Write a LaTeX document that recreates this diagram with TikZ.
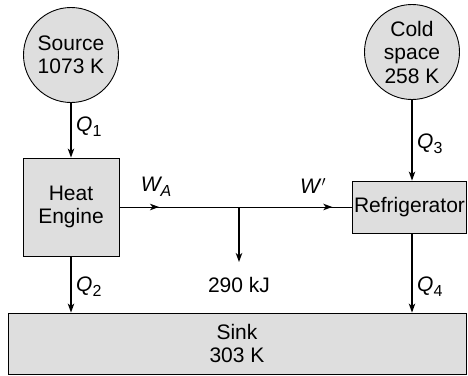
\documentclass[tikz,border=0pt]{standalone}
\usepackage{fontspec}
\setmainfont{Liberation Sans}
\usetikzlibrary{arrows.meta,decorations.markings}
\newcommand\mysub[1]{\raisebox{-0.45ex}{\fontsize{16}{16}\selectfont\upshape #1}}
\definecolor{boxgray}{RGB}{222,222,222}
\tikzset{
  x=1pt,y=1pt,
  txt/.style={font=\fontsize{21}{23.5}\selectfont, align=center, inner sep=0pt},
  res/.style={txt, circle, draw, line width=0.9pt, fill=boxgray, minimum size=95pt},
  dev/.style={txt, rectangle, draw, line width=0.9pt, fill=boxgray},
  arr/.style={line width=1.1pt, -{Stealth[length=9pt,width=6.5pt,inset=2.5pt]}},
  lbl/.style={txt, anchor=west},
  wline/.style={line width=0.9pt, postaction={decorate}, decoration={markings,
     mark=at position 0.17 with {\arrow{Stealth[length=9pt,width=6.5pt,inset=2.5pt]}},
     mark=at position 0.915 with {\arrow{Stealth[length=9pt,width=6.5pt,inset=2.5pt]}}}}
}
\begin{document}
\begin{tikzpicture}
\useasboundingbox (0,0) rectangle (468,-375);
\node[res] (src) at (71,-55) {Source\\1073 K};
\node[res] (cold) at (412,-52) {Cold\\space\\258 K};
\node[dev, minimum width=96pt, minimum height=98pt] (he) at (71,-207) {Heat\\Engine};
\node[dev, minimum width=114pt, minimum height=52pt] (ref) at (409.5,-207) {Refrigerator};
\node[dev, minimum width=458pt, minimum height=61pt] (sink) at (237,-343.5) {Sink\\303 K};
\coordinate (junc) at (239,-207);
\coordinate (out) at (239,-262);
\draw[arr] (src.south) -- (he.north);
\draw[arr] (cold.south) -- (cold.south |- ref.north);
\draw[arr] (he.south) -- (he.south |- sink.north);
\draw[arr] (cold.south |- ref.south) -- (cold.south |- sink.north);
\draw[wline] (he.east) -- (ref.west);
\draw[arr] (junc) -- (out);
\node[lbl] (q1) at (76,-127) {\itshape Q\mysub{1}};
\node[lbl] (q3) at (417,-144) {\itshape Q\mysub{3}};
\node[lbl] (q2) at (76,-287) {\itshape Q\mysub{2}};
\node[lbl] (q4) at (417,-287) {\itshape Q\mysub{4}};
\node[txt] (wa) at (156,-187) {\itshape W\mysub{\itshape A}};
\node[txt] (wp) at (313,-186) {\itshape W\/$'$};
\node[txt] (kj) at (239,-285) {290 kJ};
\end{tikzpicture}
\end{document}
